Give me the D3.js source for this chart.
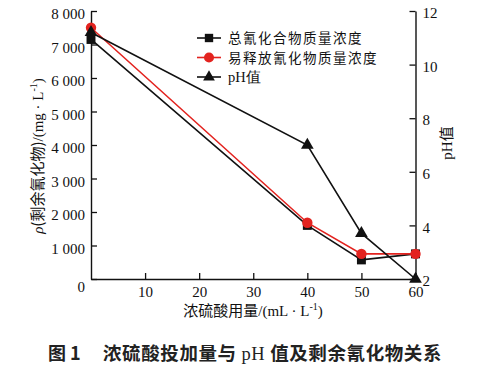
<!DOCTYPE html>
<html><head><meta charset="utf-8">
<script src="https://cdn.jsdelivr.net/npm/d3@7"></script>
<style>
body{margin:0;background:#fff;}
svg{display:block;}
.tk text{font-family:"Liberation Serif","Times New Roman",serif;font-size:15px;fill:#111;}
</style></head>
<body>
<svg id="c" width="485" height="369"></svg>
<script>
const xValues = [0, 40, 50, 60];
const totalCN = [7150, 1600, 570, 750];
const releasableCN = [7500, 1680, 750, 750];
const pHValues = [11.2, 7.0, 3.7, 2.0];
const xTicks = [10, 20, 30, 40, 50, 60];
const yLeftTicks = [0, 1000, 2000, 3000, 4000, 5000, 6000, 7000, 8000];
const yRightTicks = [2, 4, 6, 8, 10, 12];
const legendLabels = ["总氰化合物质量浓度", "易释放氰化物质量浓度", "pH值"];

const svg = d3.select("#c");
const x = d3.scaleLinear().domain([0, 60]).range([91, 415.5]);
const yL = d3.scaleLinear().domain([0, 8000]).range([279, 11]);
const yR = d3.scaleLinear().domain([2, 12]).range([279, 11]);
const serif = '"Liberation Serif","Times New Roman",serif';
const cjk = '"Noto Sans CJK SC","Noto Serif CJK SC",serif';
const fmt = d => d === 0 ? "0" : d3.format(",")(d).replace(",", " ");

// axes
const gL = svg.append("g").attr("class","tk").attr("transform","translate(91,0)")
  .call(d3.axisLeft(yL).tickValues(yLeftTicks).tickSizeInner(-6).tickSizeOuter(0).tickPadding(6).tickFormat(fmt));
gL.selectAll(".tick text").attr("dy","0.5em").filter(d=>d===0).attr("dy","0.85em");
const gB = svg.append("g").attr("class","tk").attr("transform","translate(0,279)")
  .call(d3.axisBottom(x).tickValues(xTicks).tickSizeInner(-6).tickSizeOuter(0).tickPadding(4));
gB.selectAll(".tick text").attr("dy","0.95em");
const gR = svg.append("g").attr("class","tk").attr("transform","translate(415.5,0)")
  .call(d3.axisRight(yR).tickValues(yRightTicks).tickSizeInner(-6).tickSizeOuter(0).tickPadding(7));
gR.selectAll(".tick text").attr("dy","0.45em");
svg.selectAll(".tk path.domain").attr("stroke","#111").attr("stroke-width",1.4);
svg.selectAll(".tk line").attr("stroke","#111").attr("stroke-width",1.3);

// series
function drawSeries(vals, yScale, color, shape) {
  const pts = xValues.map((xv,i)=>[x(xv), yScale(vals[i])]);
  svg.append("path").attr("d", d3.line()(pts)).attr("fill","none")
    .attr("stroke", color).attr("stroke-width", 1.6);
  pts.forEach(p=>{
    svg.append("path").attr("transform",`translate(${p[0]},${p[1]})`)
      .attr("d", d3.symbol().type(shape).size(shape===d3.symbolCircle?85:(shape===d3.symbolTriangle?70:80))())
      .attr("fill", color);
  });
}
drawSeries(totalCN, yL, "#111", d3.symbolSquare);
drawSeries(releasableCN, yL, "#e3231f", d3.symbolCircle);
drawSeries(pHValues, yR, "#111", d3.symbolTriangle);

// legend
const legColors = ["#111","#e3231f","#111"];
const legShapes = [d3.symbolSquare, d3.symbolCircle, d3.symbolTriangle];
legendLabels.forEach((t,i)=>{
  const yy = 38 + i*19.5;
  svg.append("line").attr("x1",197).attr("x2",221).attr("y1",yy).attr("y2",yy)
    .attr("stroke",legColors[i]).attr("stroke-width",1.6);
  svg.append("path").attr("transform",`translate(209,${yy})`)
    .attr("d", d3.symbol().type(legShapes[i]).size(legShapes[i]===d3.symbolCircle?80:(legShapes[i]===d3.symbolTriangle?60:70))())
    .attr("fill",legColors[i]);
  svg.append("text").attr("x",228).attr("y",yy+5).attr("font-size",i===2?14.5:13.5)
    .attr("letter-spacing", i===2 ? 0 : 1.5)
    .attr("font-family", i===2 ? serif : cjk).attr("fill","#111").text(t);
});

// axis titles
svg.append("text").attr("transform","translate(43,156) rotate(-90)").attr("text-anchor","middle")
  .attr("font-family",serif).attr("font-size",15).attr("fill","#111")
  .html('<tspan font-style="italic">ρ</tspan><tspan font-family=\'"Noto Sans CJK SC",serif\'>(剩余氰化物)</tspan>/(mg · L<tspan dy="-6" font-size="10">-1</tspan><tspan dy="6">)</tspan>');
svg.append("text").attr("x",253).attr("y",316).attr("text-anchor","middle")
  .attr("font-family",serif).attr("font-size",15).attr("fill","#111")
  .html('<tspan font-family=\'"Noto Sans CJK SC",serif\'>浓硫酸用量</tspan>/(mL · L<tspan dy="-6" font-size="10">-1</tspan><tspan dy="6">)</tspan>');
svg.append("text").attr("transform","translate(452,143) rotate(-90)").attr("text-anchor","middle")
  .attr("font-family",serif).attr("font-size",15).attr("fill","#111")
  .html('pH<tspan font-family=\'"Noto Sans CJK SC",serif\'>值</tspan>');

// caption
svg.append("text").attr("x",48).attr("y",360).attr("font-family",cjk).attr("font-size",18)
  .attr("font-weight","bold").attr("fill","#222").text("图 1");
svg.append("text").attr("x",103).attr("y",360).attr("font-family",cjk).attr("font-size",18.5)
  .attr("font-weight","bold").attr("fill","#222").attr("letter-spacing","0.6")
  .html('浓硫酸投加量与 <tspan font-family=\'"Liberation Serif",serif\' font-weight="normal">pH</tspan> 值及剩余氰化物关系');
</script>
</body></html>
